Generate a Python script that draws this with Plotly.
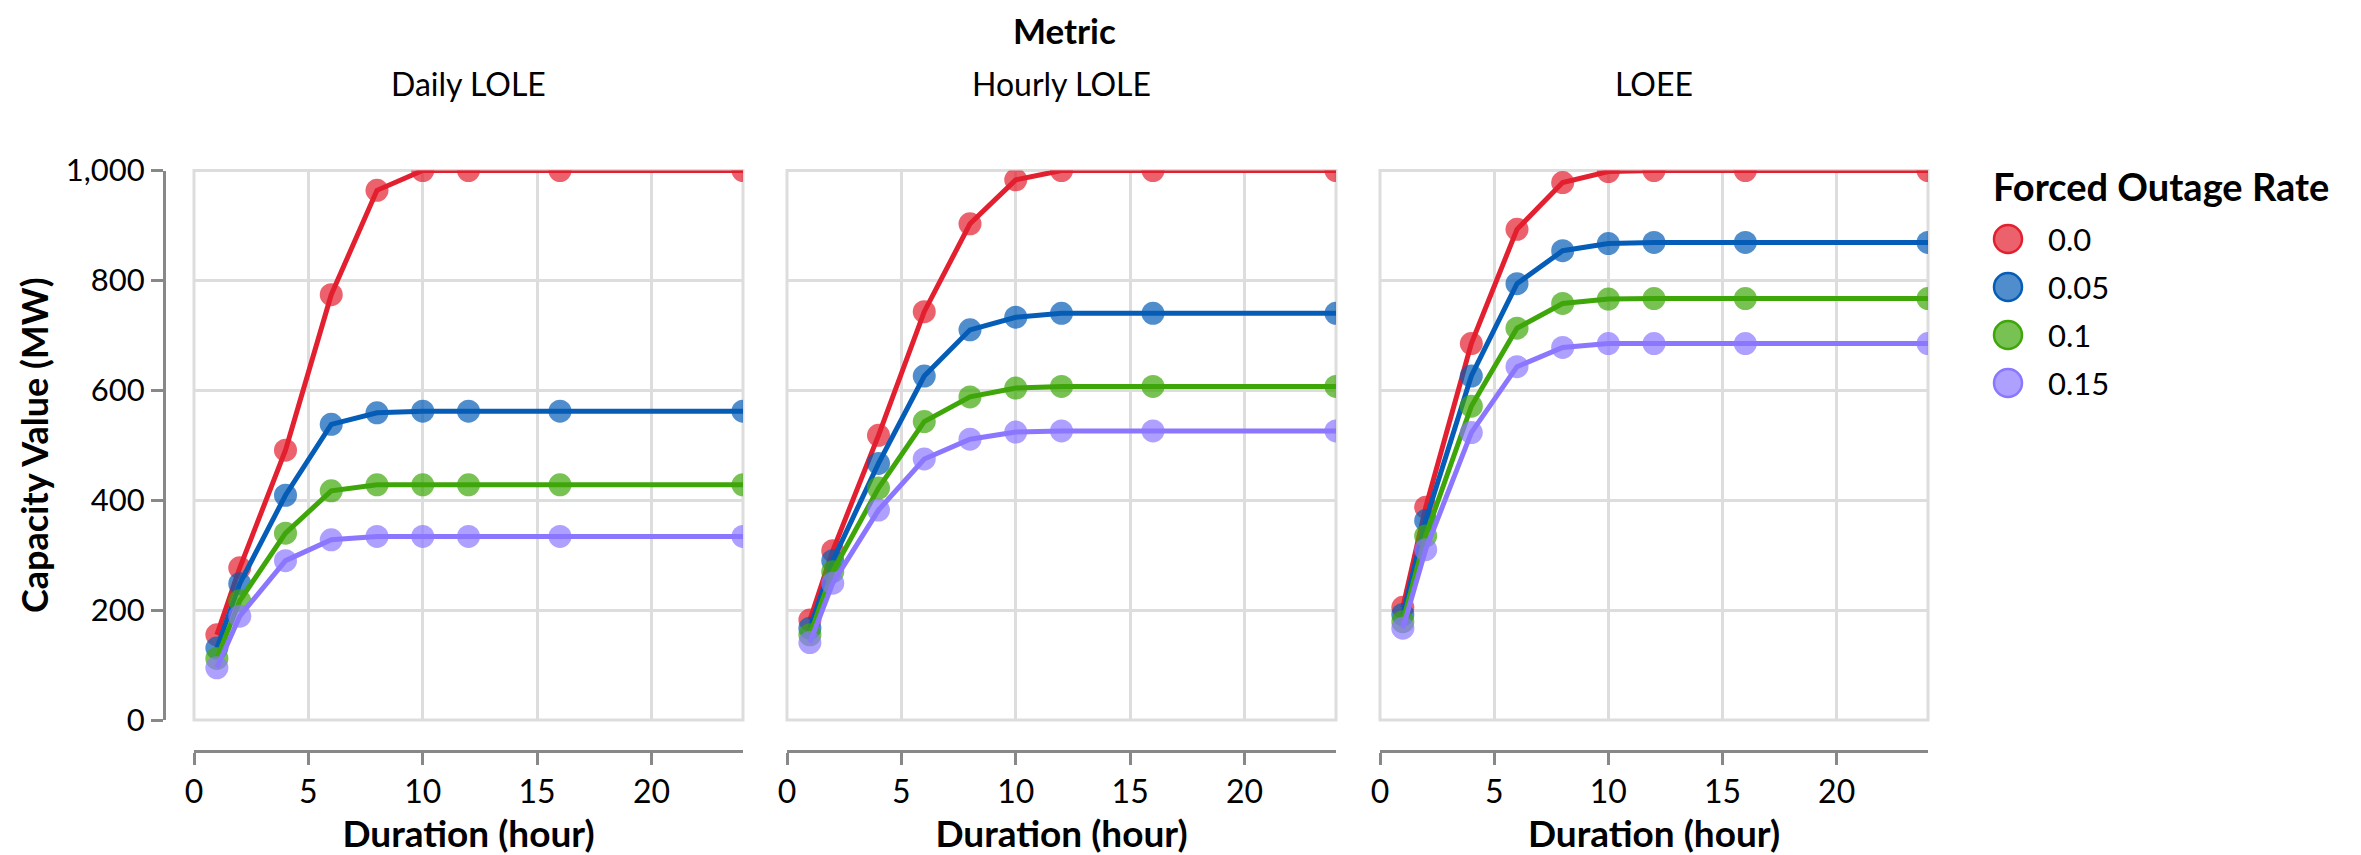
import plotly.graph_objects as go

# ---------------- data ----------------
durations = [1, 2, 4, 6, 8, 10, 12, 16, 24]
metrics = ["Daily LOLE", "Hourly LOLE", "LOEE"]
forced_outage_rates = ["0.0", "0.05", "0.1", "0.15"]

daily_lole_for_000 = [155, 277, 491, 774, 964, 1000, 1000, 1000, 1000]
daily_lole_for_005 = [131, 248, 409, 538, 559, 562, 562, 562, 562]
daily_lole_for_010 = [112, 217, 340, 417, 428, 428, 428, 428, 428]
daily_lole_for_015 = [95, 189, 290, 328, 334, 334, 334, 334, 334]

hourly_lole_for_000 = [182, 308, 518, 743, 903, 983, 1000, 1000, 1000]
hourly_lole_for_005 = [167, 290, 467, 626, 710, 733, 740, 740, 740]
hourly_lole_for_010 = [155, 270, 422, 543, 588, 604, 607, 607, 607]
hourly_lole_for_015 = [141, 249, 382, 475, 511, 524, 526, 526, 526]

loee_for_000 = [205, 387, 685, 893, 978, 998, 1000, 1000, 1000]
loee_for_005 = [192, 363, 626, 794, 854, 867, 869, 869, 869]
loee_for_010 = [179, 335, 571, 713, 758, 766, 767, 767, 767]
loee_for_015 = [167, 310, 523, 643, 678, 685, 685, 685, 685]

x_ticks = [0, 5, 10, 15, 20]
y_ticks = [0, 200, 400, 600, 800, 1000]

series_by_metric = {
    "Daily LOLE": [daily_lole_for_000, daily_lole_for_005, daily_lole_for_010, daily_lole_for_015],
    "Hourly LOLE": [hourly_lole_for_000, hourly_lole_for_005, hourly_lole_for_010, hourly_lole_for_015],
    "LOEE": [loee_for_000, loee_for_005, loee_for_010, loee_for_015],
}

# ---------------- style ----------------
colors = ["#E3202F", "#065DB7", "#3FA60A", "#8B77FF"]
rgba = ["rgba(227,32,47,0.7)", "rgba(6,93,183,0.7)", "rgba(63,166,10,0.7)", "rgba(139,119,255,0.7)"]
FONT = "Lato"
W, H = 2361, 855
OFF = 8  # page body margin of the html page
panels_px = [(194, 743), (787, 1336), (1380, 1928)]
y_top_px, y_bot_px = 170.5, 720
x_axis_px = 751
y_axis_px = 164

def px_x(p):
    return (p - OFF) / W

def px_y(p):
    return 1 - (p - OFF) / H

fig = go.Figure()

for i, metric in enumerate(metrics):
    xa = "x" if i == 0 else f"x{i+1}"
    ya = "y" if i == 0 else f"y{i+1}"
    for k, vals in enumerate(series_by_metric[metric]):
        fig.add_trace(go.Scatter(
            x=durations, y=vals, mode="lines+markers",
            line=dict(color=colors[k], width=5),
            marker=dict(color=colors[k], size=23, opacity=0.7, line=dict(width=0)),
            xaxis=xa, yaxis=ya, showlegend=False,
            name=forced_outage_rates[k],
        ))

layout = dict(
    width=W, height=H,
    margin=dict(l=0, r=0, t=0, b=0, pad=0, autoexpand=False),
    paper_bgcolor="white", plot_bgcolor="white",
    font=dict(family=FONT, size=31, color="#000"),
    showlegend=False,
)

shapes = []
annotations = []
for i, metric in enumerate(metrics):
    sfx = "" if i == 0 else str(i + 1)
    x0, x1 = panels_px[i]
    layout[f"xaxis{sfx}"] = dict(
        domain=[px_x(x0), px_x(x1)], range=[0, 24],
        anchor="free", position=px_y(x_axis_px), automargin=False,
        tickvals=x_ticks, showgrid=True, gridcolor="#dddddd", gridwidth=3,
        zeroline=False, showline=True, linecolor="#888888", linewidth=3,
        ticks="outside", ticklen=12, tickwidth=3, tickcolor="#888888",
        tickfont=dict(family=FONT, size=32, color="#000"),
        title=dict(text="<b>Duration (hour)</b>", font=dict(family=FONT, size=37, color="#000"), standoff=11),
        fixedrange=True,
    )
    ydict = dict(
        domain=[px_y(y_bot_px), px_y(y_top_px)], range=[0, 1000], automargin=False,
        tickvals=y_ticks, showgrid=True, gridcolor="#dddddd", gridwidth=3,
        zeroline=False, fixedrange=True,
    )
    if i == 0:
        ydict.update(
            anchor="free", position=px_x(y_axis_px),
            showline=True, linecolor="#888888", linewidth=3,
            ticks="outside", ticklen=12, tickwidth=3, tickcolor="#888888",
            tickformat=",d",
            tickfont=dict(family=FONT, size=31, color="#000"),
            title=dict(text="<b>Capacity Value (MW)</b>", font=dict(family=FONT, size=36, color="#000"), standoff=5),
        )
    else:
        ydict.update(anchor=f"x{sfx}", matches="y", showline=False, ticks="", showticklabels=False)
    layout[f"yaxis{sfx}"] = ydict

    shapes.append(dict(type="rect", xref=f"x{sfx} domain", yref=f"y{sfx} domain",
                       x0=0, x1=1, y0=0, y1=1, line=dict(color="#dddddd", width=3),
                       layer="below"))
    annotations.append(dict(text=metric, xref=f"x{sfx} domain", x=0.5, xanchor="center",
                            yref="paper", y=px_y(83), yanchor="middle", showarrow=False,
                            font=dict(family=FONT, size=32, color="#000")))

annotations.append(dict(text="<b>Metric</b>", xref="paper", x=px_x(1064), xanchor="center",
                        yref="paper", y=1, yanchor="top", showarrow=False, borderpad=0,
                        font=dict(family=FONT, size=35, color="#000")))

# ---------------- legend (drawn as its own small panel) ----------------
leg_x0 = 1991
layout["xaxis4"] = dict(domain=[px_x(leg_x0), 1], range=[-17, W - leg_x0 - 17 + OFF],
                        visible=False, fixedrange=True, anchor="y4", automargin=False)
layout["yaxis4"] = dict(domain=[px_y(407), px_y(215)], range=[3.5, -0.5],
                        type="linear", visible=False, fixedrange=True, anchor="x4", automargin=False)
for k, lab in enumerate(forced_outage_rates):
    fig.add_trace(go.Scatter(
        x=[0], y=[k], mode="markers", xaxis="x4", yaxis="y4", showlegend=False,
        marker=dict(color=rgba[k], size=28, line=dict(color=colors[k], width=2.5)),
        hoverinfo="skip",
    ))
    annotations.append(dict(text=lab, xref="x4", x=38, xanchor="left",
                            yref="y4", y=k, yanchor="middle", showarrow=False,
                            font=dict(family=FONT, size=31, color="#000")))
annotations.append(dict(text="<b>Forced Outage Rate</b>", xref="paper", x=px_x(1991), xanchor="left",
                        yref="paper", y=px_y(186), yanchor="middle", showarrow=False,
                        font=dict(family=FONT, size=38, color="#000")))

layout["shapes"] = shapes
layout["annotations"] = annotations
fig.update_layout(**layout)

fig.write_html("out.html")
